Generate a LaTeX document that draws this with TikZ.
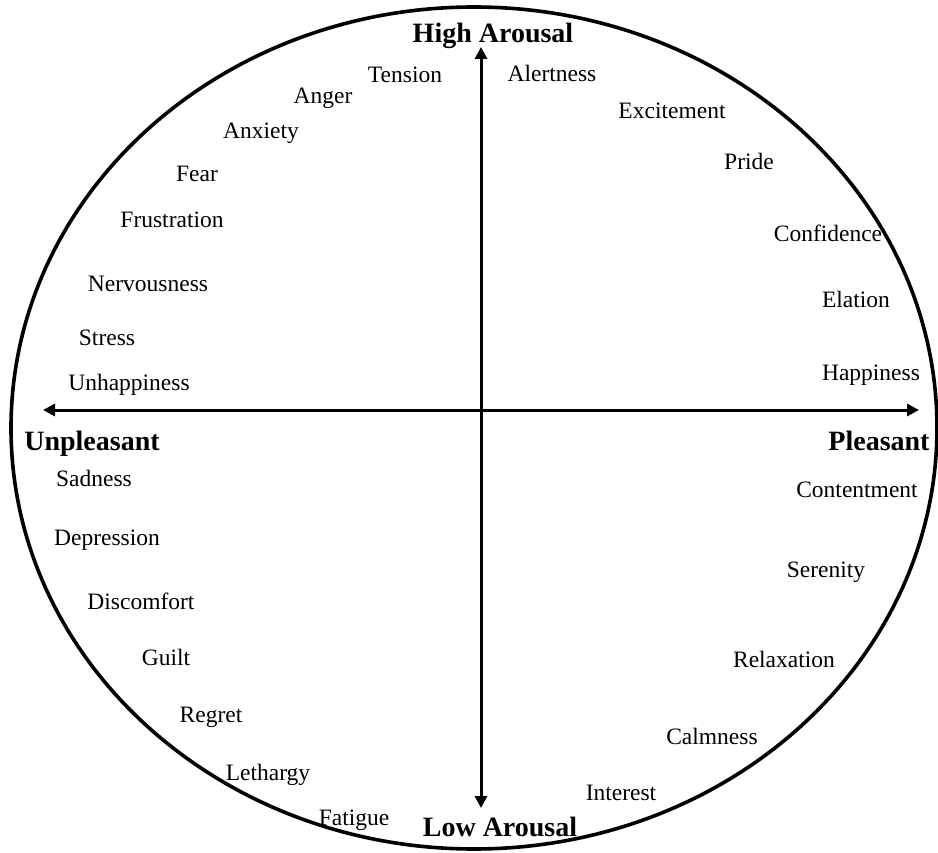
\documentclass[tikz,border=0pt]{standalone}
\usepackage{fontspec}
\setmainfont{Liberation Serif}
\usetikzlibrary{arrows.meta}
\tikzset{
  emo/.style={inner sep=0pt, anchor=base, font=\fontsize{23.5}{28}\selectfont},
  pole/.style={inner sep=0pt, anchor=base, font=\fontsize{28}{33}\selectfont\bfseries},
  axis/.style={line width=3pt, {Triangle[length=12pt,width=12pt]}-{Triangle[length=12pt,width=12pt]}},
  rim/.style={line width=3.6pt}
}
\begin{document}
\begin{tikzpicture}[x=1pt,y=-1pt]
\useasboundingbox (0,0) rectangle (938,853);
\fill[white] (0,0) rectangle (938,853);
\draw[rim] (474,428) ellipse [x radius=463pt, y radius=421pt];
\coordinate (axL) at (43,410);
\coordinate (axR) at (919,410);
\coordinate (axT) at (481,47);
\coordinate (axB) at (481,808);
\draw[axis] (axL) -- (axR);
\draw[axis] (axT) -- (axB);
% poles
\node[pole] (high) at (493,43) {High Arousal};
\node[pole] (low) at (500,836) {Low Arousal};
\node[pole] (unpl) at (92,450) {Unpleasant};
\node[pole] (pleas) at (879,450) {Pleasant};
% upper left
\node[emo] (tension) at (405,83) {Tension};
\node[emo] (anger) at (323,104) {Anger};
\node[emo] (anxiety) at (261,139) {Anxiety};
\node[emo] (fear) at (197,182) {Fear};
\node[emo] (frustration) at (172,228) {Frustration};
\node[emo] (nervousness) at (148,292) {Nervousness};
\node[emo] (stress) at (107,345) {Stress};
\node[emo] (unhappiness) at (129,391) {Unhappiness};
% upper right
\node[emo] (alertness) at (552,82) {Alertness};
\node[emo] (excitement) at (672,119) {Excitement};
\node[emo] (pride) at (749,170) {Pride};
\node[emo] (confidence) at (828,242) {Confidence};
\node[emo] (elation) at (856,308) {Elation};
\node[emo] (happiness) at (871,381) {Happiness};
% lower left
\node[emo] (sadness) at (94,486) {Sadness};
\node[emo] (depression) at (107,545) {Depression};
\node[emo] (discomfort) at (141,609) {Discomfort};
\node[emo] (guilt) at (166,665) {Guilt};
\node[emo] (regret) at (211,722) {Regret};
\node[emo] (lethargy) at (268,780) {Lethargy};
\node[emo] (fatigue) at (354,825) {Fatigue};
% lower right
\node[emo] (contentment) at (857,497) {Contentment};
\node[emo] (serenity) at (826,577) {Serenity};
\node[emo] (relaxation) at (784,667) {Relaxation};
\node[emo] (calmness) at (712,744) {Calmness};
\node[emo] (interest) at (621,800) {Interest};
\end{tikzpicture}
\end{document}
